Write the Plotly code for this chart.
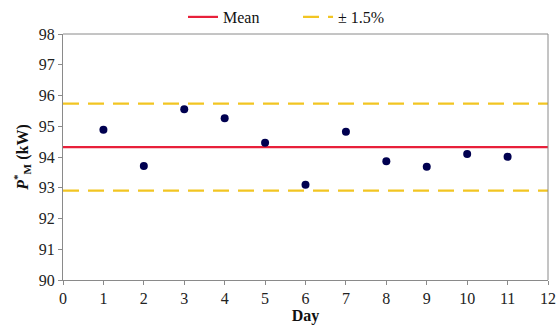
import plotly.graph_objects as go

days = [1, 2, 3, 4, 5, 6, 7, 8, 9, 10, 11]
power = [94.89, 93.71, 95.55, 95.26, 94.46, 93.10, 94.82, 93.86, 93.68, 94.10, 94.01]
mean_value = 94.32
band_pct = 1.5
x_range = [0, 12]
y_ticks = [90, 91, 92, 93, 94, 95, 96, 97, 98]
x_ticks = list(range(0, 13))

upper = mean_value * (1 + band_pct / 100)
lower = mean_value * (1 - band_pct / 100)

font_family = "Times New Roman"
fig = go.Figure()
fig.add_trace(go.Scatter(x=x_range, y=[mean_value, mean_value], mode="lines",
                         line=dict(color="#e8203a", width=2.2), name="Mean"))
fig.add_trace(go.Scatter(x=x_range, y=[upper, upper], mode="lines",
                         line=dict(color="#f2c522", width=2.2, dash="16px,9px"),
                         name="± 1.5%"))
fig.add_trace(go.Scatter(x=x_range, y=[lower, lower], mode="lines",
                         line=dict(color="#f2c522", width=2.2, dash="16px,9px"),
                         name="± 1.5%", showlegend=False))
fig.add_trace(go.Scatter(x=days, y=power, mode="markers",
                         marker=dict(color="#000050", size=8), showlegend=False))

axis_common = dict(showgrid=False, zeroline=False, showline=True, linecolor="#8a8a8a",
                   linewidth=1, ticks="outside", ticklen=4, tickcolor="#8a8a8a",
                   mirror=False, automargin=False,
                   tickfont=dict(family=font_family, size=16, color="#222"))
fig.update_xaxes(range=x_range, tickvals=x_ticks, **axis_common,
                 title=dict(text="<b>Day</b>", font=dict(family=font_family, size=16, color="#111"),
                            standoff=2))
fig.update_yaxes(range=[90, 98], tickvals=y_ticks, **axis_common,
                 title=dict(text="<b><i>P</i><sup>*</sup><sub>M</sub> (kW)</b>",
                            font=dict(family=font_family, size=16, color="#111"), standoff=6))

fig.update_layout(
    width=558, height=330,
    margin=dict(l=63, r=10, t=34, b=50, autoexpand=False),
    paper_bgcolor="white", plot_bgcolor="white",
    font=dict(family=font_family, size=16, color="#111"),
    legend=dict(orientation="h", xref="container", yref="container",
                x=0.328, xanchor="left", y=1.0, yanchor="top",
                font=dict(family=font_family, size=16, color="#111"),
                itemwidth=30, entrywidth=70, bgcolor="rgba(0,0,0,0)"),
    shapes=[dict(type="line", xref="paper", yref="paper", x0=0, x1=1, y0=1, y1=1,
                 line=dict(color="#8a8a8a", width=1)),
            dict(type="line", xref="paper", yref="paper", x0=1, x1=1, y0=0, y1=1,
                 line=dict(color="#8a8a8a", width=1))],
)

fig.write_html("out.html")
